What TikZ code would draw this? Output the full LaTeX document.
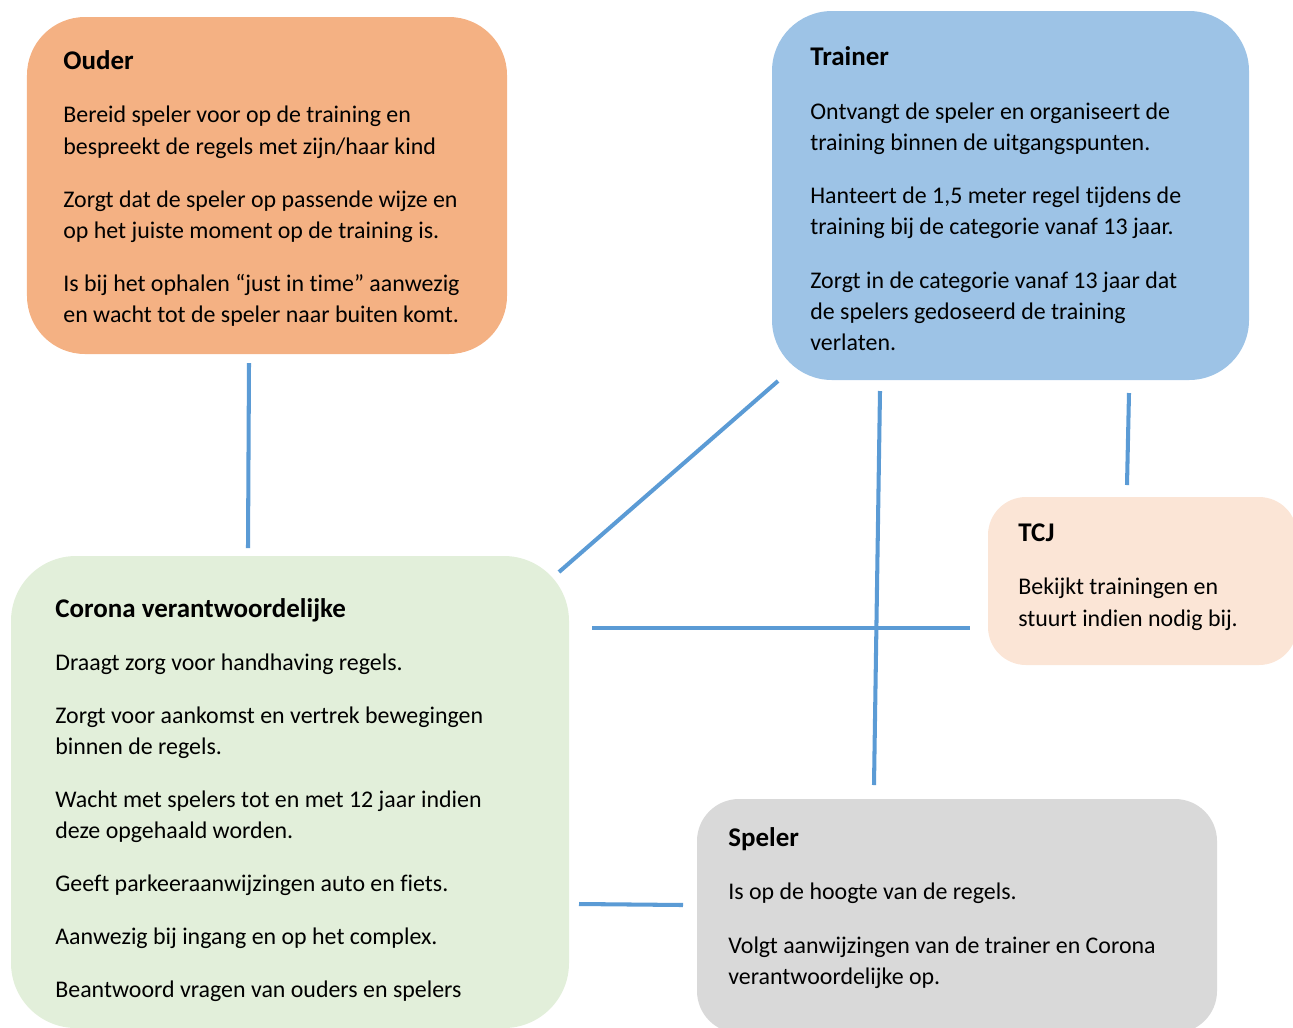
\documentclass[tikz,border=0pt]{standalone}
\usepackage{fontspec}
\setmainfont{Carlito}[Ligatures=NoCommon]
\definecolor{ouderfill}{HTML}{F4B183}
\definecolor{trainerfill}{HTML}{9DC3E6}
\definecolor{tcjfill}{HTML}{FBE5D6}
\definecolor{coronafill}{HTML}{E2EFDA}
\definecolor{spelerfill}{HTML}{D9D9D9}
\definecolor{linkblue}{HTML}{5B9BD5}
\newcommand{\roletitle}[1]{{\fontsize{15.35}{17.75}\selectfont\textbf{#1}}}
\begin{document}
\begin{tikzpicture}[
    role/.style={rectangle, draw=none, inner sep=0pt},
    roletext/.style={anchor=base west, inner sep=0pt,
      font=\fontsize{13.6}{17.75}\selectfont},
    link/.style={linkblue, line width=2.3pt}
  ]
  \useasboundingbox (0, 0) rectangle (25.86, -20.54);
  \clip (0, 0) rectangle (25.86, -20.54);
  % boxes
  \node[role, fill=ouderfill, rounded corners=1.16cm,
    minimum width=9.6cm, minimum height=6.74cm] (ouder) at (5.34, -3.71) {};
  \node[role, fill=trainerfill, rounded corners=1.2cm,
    minimum width=9.54cm, minimum height=7.38cm] (trainer) at (20.21, -3.91) {};
  \node[role, fill=tcjfill, rounded corners=0.76cm,
    minimum width=6.18cm, minimum height=3.36cm] (tcj) at (22.85, -11.62) {};
  \node[role, fill=coronafill, rounded corners=1.3cm,
    minimum width=11.16cm, minimum height=9.44cm] (corona) at (5.8, -15.84) {};
  \node[role, fill=spelerfill, rounded corners=0.84cm,
    minimum width=10.4cm, minimum height=4.68cm] (speler) at (19.14, -18.32) {};
  % texts
  \node[roletext] (ouderText) at (1.26, -1.38) {\parbox[t]{9cm}{\raggedright
    \roletitle{Ouder}\\[12.9pt]
    Bereid speler voor op de training en\\
    bespreekt de regels met zijn/haar kind\\[12.5pt]
    Zorgt dat de speler op passende wijze en\\
    op het juiste moment op de training is.\\[12.5pt]
    Is bij het ophalen “just in time” aanwezig\\
    en wacht tot de speler naar buiten komt.}};
  \node[roletext] (trainerText) at (16.2, -1.31) {\parbox[t]{9cm}{\raggedright
    \roletitle{Trainer}\\[12.9pt]
    Ontvangt de speler en organiseert de\\
    training binnen de uitgangspunten.\\[12.5pt]
    Hanteert de 1,5 meter regel tijdens de\\
    training bij de categorie vanaf 13 jaar.\\[12.5pt]
    Zorgt in de categorie vanaf 13 jaar dat\\
    de spelers gedoseerd de training\\
    verlaten.}};
  \node[roletext] (tcjText) at (20.36, -10.82) {\parbox[t]{6cm}{\raggedright
    \roletitle{TCJ}\\[12.9pt]
    Bekijkt trainingen en\\
    stuurt indien nodig bij.}};
  \node[roletext] (coronaText) at (1.1, -12.34) {\parbox[t]{10cm}{\raggedright
    \roletitle{Corona verantwoordelijke}\\[12.7pt]
    Draagt zorg voor handhaving regels.\\[12.4pt]
    Zorgt voor aankomst en vertrek bewegingen\\
    binnen de regels.\\[12.4pt]
    Wacht met spelers tot en met 12 jaar indien\\
    deze opgehaald worden.\\[12.4pt]
    Geeft parkeeraanwijzingen auto en fiets.\\[12.4pt]
    Aanwezig bij ingang en op het complex.\\[12.4pt]
    Beantwoord vragen van ouders en spelers}};
  \node[roletext] (spelerText) at (14.56, -16.92) {\parbox[t]{10cm}{\raggedright
    \roletitle{Speler}\\[12.9pt]
    Is op de hoogte van de regels.\\[12.5pt]
    Volgt aanwijzingen van de trainer en Corona\\
    verantwoordelijke op.}};
  % connector ends
  \coordinate (ouderEnd) at (4.98, -7.26);
  \coordinate (coronaTop) at (4.96, -10.96);
  \coordinate (trainerCorner) at (15.56, -7.62);
  \coordinate (coronaCorner) at (11.18, -11.44);
  \coordinate (trainerMid) at (17.6, -7.82);
  \coordinate (spelerTop) at (17.48, -15.7);
  \coordinate (trainerRight) at (22.58, -7.86);
  \coordinate (tcjTop) at (22.54, -9.7);
  \coordinate (coronaRight) at (11.84, -12.56);
  \coordinate (tcjLeft) at (19.4, -12.56);
  \coordinate (coronaLow) at (11.58, -18.08);
  \coordinate (spelerLeft) at (13.66, -18.1);
  % connectors
  \draw[link] (ouderEnd) -- (coronaTop);
  \draw[link] (trainerCorner) -- (coronaCorner);
  \draw[link] (trainerMid) -- (spelerTop);
  \draw[link] (trainerRight) -- (tcjTop);
  \draw[link] (coronaRight) -- (tcjLeft);
  \draw[link] (coronaLow) -- (spelerLeft);
\end{tikzpicture}
\end{document}
